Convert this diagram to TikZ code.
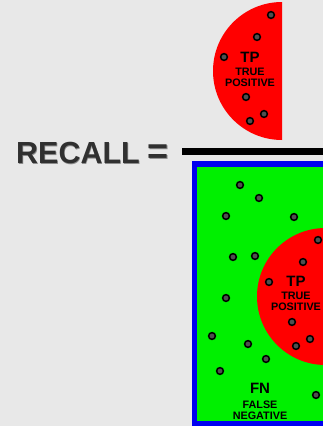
\documentclass[tikz,border=0pt]{standalone}
\usepackage{fontspec}
\setmainfont{Liberation Sans}
\definecolor{bg}{HTML}{E8E8E8}
\definecolor{tpred}{HTML}{FF0000}
\definecolor{fngreen}{HTML}{00F000}
\definecolor{frame}{HTML}{0000F0}
\definecolor{dotgray}{HTML}{505050}
\definecolor{title}{HTML}{303030}
\tikzset{
  dot/.style={fill=dotgray, draw=black, line width=1.5pt},
  biglabel/.style={font=\bfseries\fontsize{15}{15}\selectfont, inner sep=0pt},
  smalllabel/.style={font=\bfseries\fontsize{10.8}{11.5}\selectfont, align=center, inner sep=0pt},
  headline/.style={font=\bfseries\fontsize{30.5}{30.5}\selectfont, anchor=west, inner sep=0pt},
}
\newcommand{\dotat}[1]{\filldraw[dot] #1 circle[radius=3.4pt];}
\newcommand{\recalltext}{RECALL\kern8pt{\fontsize{36}{36}\selectfont=}}
\begin{document}
\begin{tikzpicture}[x=1pt,y=-1pt]
  \fill[bg] (0,0) rectangle (323,426);
  \useasboundingbox (0,0) rectangle (323,426);
  \clip (0,0) rectangle (323,426);

  % numerator: half disc of true positives
  \fill[tpred] (282,2) arc[start angle=-90, end angle=-270, radius=69] -- cycle;
  \foreach \p in {(271,15),(257,37),(224,57),(246,97),(264,114),(250,121)} {\dotat{\p}}
  \node[biglabel] (tpa) at (250,57) {TP};
  \node[smalllabel] (tpatext) at (250,77.5) {TRUE\\POSITIVE};

  % left-hand side (with a soft shadow) and fraction bar
  \node[headline, text=black!45] (recallshadow) at (16.6,153.6) {\recalltext};
  \node[headline, text=title] (recall) at (16,153) {\recalltext};
  \draw[line width=6.5pt] (182,151.5) -- (340,151.5);

  % denominator: all actual positives
  \fill[fngreen] (194.5,164) rectangle (340,423.5);
  \fill[tpred] (325.5,296.5) circle[radius=68.5];
  \draw[frame, line width=5.5pt] (340,164) -- (194.5,164) -- (194.5,423.5) -- (340,423.5);
  \foreach \p in {(240,185),(259,198),(226,216),(294,217),(318,240),(233,257),(255,256),
                  (303,262),(269,282),(226,298),(292,322),(212,336),(248,344),(310,339),
                  (296,346),(266,359),(220,371),(316,395)} {\dotat{\p}}
  \node[biglabel] (tpb) at (296,281) {TP};
  \node[smalllabel] (tpbtext) at (296,301.5) {TRUE\\POSITIVE};
  \node[biglabel] (fn) at (260,388) {FN};
  \node[smalllabel] (fntext) at (260,410.5) {FALSE\\NEGATIVE};
\end{tikzpicture}
\end{document}
